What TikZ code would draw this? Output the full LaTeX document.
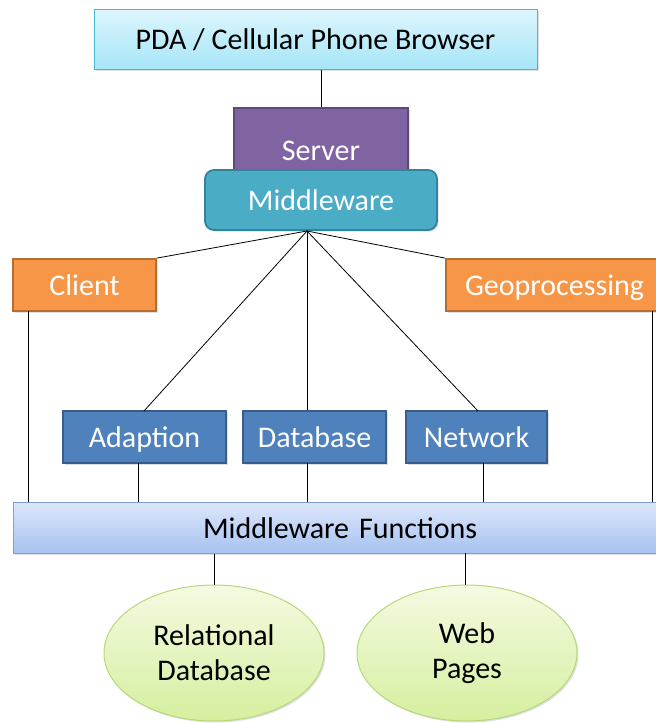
\documentclass[tikz,border=0pt]{standalone}
\usepackage{fontspec}
\setmainfont{Carlito}
\usetikzlibrary{shapes.geometric,shadows}
\definecolor{topb}{HTML}{46B8DA}
\definecolor{topt}{HTML}{DDF6FD}
\definecolor{topbot}{HTML}{A6E5F8}
\definecolor{purp}{HTML}{8064A2}
\definecolor{purpd}{HTML}{5F497A}
\definecolor{teal}{HTML}{4BACC6}
\definecolor{teald}{HTML}{31849B}
\definecolor{orng}{HTML}{F79646}
\definecolor{orngd}{HTML}{B66D31}
\definecolor{blu}{HTML}{4F81BD}
\definecolor{blud}{HTML}{385D8A}
\definecolor{mft}{HTML}{DDE7FA}
\definecolor{mfb}{HTML}{A6C2F0}
\definecolor{mfd}{HTML}{7BA0D8}
\definecolor{grt}{HTML}{F4FAE2}
\definecolor{grb}{HTML}{D5EF9E}
\definecolor{grd}{HTML}{B5D97A}
\tikzset{
  base/.style={rectangle, inner sep=0pt, line width=1.8pt, font=\fontsize{30}{32}\selectfont, text height=21pt, text depth=0pt, drop shadow={shadow xshift=1.5pt, shadow yshift=-1.5pt, opacity=0.25}},
  topbox/.style={base, draw=topb, top color=topt, bottom color=topbot, line width=1pt, text=black},
  purpbox/.style={base, draw=purpd, fill=purp, text=white},
  tealbox/.style={base, draw=teald, fill=teal, text=white, rounded corners=9pt},
  orbox/.style={base, draw=orngd, fill=orng, text=white},
  blubox/.style={base, draw=blud, fill=blu, text=white},
  mfbox/.style={base, draw=mfd, top color=mft, bottom color=mfb, line width=1pt, text=black},
  oval/.style={ellipse, inner sep=0pt, draw=grd, line width=1pt, top color=grt, bottom color=grb, text=black, align=center, font=\fontsize{30}{35}\selectfont, drop shadow={shadow xshift=1.5pt, shadow yshift=-1.5pt, opacity=0.25}},
  conn/.style={draw=black, line width=0.8pt},
}
\begin{document}
\begin{tikzpicture}[x=1pt,y=-1pt]
\useasboundingbox (0,0) rectangle (656,723);
\clip (0,0) rectangle (656,723);
\node[topbox, minimum width=443pt, minimum height=60pt] (pda) at (315.5,39) {PDA / Cellular Phone Browser};
\node[purpbox, minimum width=174pt, minimum height=70pt] (srv) at (321,143) {};
\node[font=\fontsize{30}{32}\selectfont, text=white, text height=21pt, text depth=0pt] (srvt) at (321,150) {Server};
\node[tealbox, minimum width=232pt, minimum height=60pt] (mw) at (321,200) {Middleware};
\coordinate (apex) at (307,231);
\node[orbox, minimum width=143pt, minimum height=52pt] (cli) at (84.5,285) {Client};
\node[orbox, minimum width=232pt, minimum height=52pt, text width=232pt, align=left] (geo) at (562,285) {\hspace*{19pt}Geoprocessing};
\node[blubox, minimum width=163pt, minimum height=52pt] (ada) at (144.5,437) {Adaption};
\node[blubox, minimum width=143pt, minimum height=52pt] (dbb) at (314.5,437) {Database};
\node[blubox, minimum width=141pt, minimum height=52pt] (net) at (476.5,437) {Network};
\node[mfbox, minimum width=660pt, minimum height=51pt, text width=660pt, align=left] (mf) at (343,527.5) {\hspace*{190pt}Middleware Functions};
\node[oval, minimum width=220pt, minimum height=136pt] (rel) at (214,653) {Relational\\Database};
\node[oval, minimum width=220pt, minimum height=136pt] (web) at (467,653) {Web\\Pages};
\path[conn] (pda.south -| srv.north) -- (srv.north);
\path[conn] (apex) -- (cli.north east);
\path[conn] (apex) -- (geo.north west);
\path[conn] (apex) -- (144,411);
\path[conn] (apex) -- (apex |- dbb.north);
\path[conn] (apex) -- (478,411);
\path[conn] (28,311) -- (28,502);
\path[conn] (652,311) -- (652,502);
\path[conn] (138,463) -- (138,502);
\path[conn] (307,463) -- (307,502);
\path[conn] (483,463) -- (483,502);
\path[conn] (rel.north) -- (rel.north |- mf.south);
\path[conn] (465,585) -- (465,553);
\end{tikzpicture}
\end{document}
